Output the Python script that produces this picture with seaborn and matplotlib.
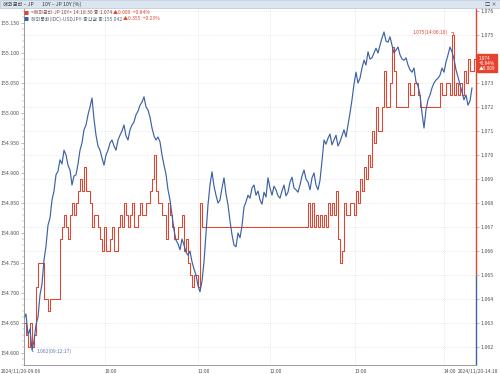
import numpy as np
import pandas as pd
import matplotlib
matplotlib.use("Agg")
import matplotlib.pyplot as plt
import matplotlib.transforms as mtransforms
from matplotlib.patches import Rectangle
import seaborn as sns

# ====================== 데이터 ======================
# 해외통화(IDC)-USDJPY-중간값 (왼쪽 축), 틱 순서대로
usdjpy = [154.658, 154.665, 154.630, 154.640, 154.605, 154.620, 154.647, 154.660, 154.697, 154.715,
          154.755, 154.778, 154.813, 154.825, 154.855, 154.870, 154.897, 154.903, 154.922, 154.915,
          154.938, 154.930, 154.913, 154.905, 154.880, 154.895, 154.897, 154.915, 154.938, 154.950,
          154.972, 154.980, 154.997, 155.010, 155.025, 154.990, 154.963, 154.945, 154.938, 154.925,
          154.913, 154.930, 154.938, 154.950, 154.955, 154.945, 154.938, 154.955, 154.963, 154.970,
          154.980, 154.962, 154.955, 154.972, 154.980, 154.985, 154.997, 155.003, 155.013, 155.018,
          155.027, 155.010, 155.005, 154.993, 154.975, 154.962, 154.955, 154.960, 154.952, 154.930,
          154.913, 154.898, 154.872, 154.855, 154.830, 154.805, 154.788, 154.782, 154.772, 154.790,
          154.780, 154.768, 154.763, 154.770, 154.752, 154.740, 154.730, 154.712, 154.702, 154.720,
          154.752, 154.800, 154.847, 154.880, 154.902, 154.878, 154.863, 154.850, 154.855, 154.875,
          154.892, 154.865, 154.847, 154.820, 154.797, 154.780, 154.777, 154.800, 154.792, 154.812,
          154.843, 154.852, 154.863, 154.858, 154.875, 154.880, 154.863, 154.870, 154.855, 154.848,
          154.868, 154.860, 154.892, 154.875, 154.863, 154.878, 154.872, 154.862, 154.858, 154.870,
          154.880, 154.862, 154.868, 154.885, 154.893, 154.875, 154.872, 154.868, 154.880, 154.895,
          154.905, 154.890, 154.885, 154.872, 154.892, 154.900, 154.880, 154.872, 154.888, 154.920,
          154.955, 154.948, 154.958, 154.965, 154.947, 154.955, 154.963, 154.945, 154.952, 154.962,
          154.972, 154.960, 154.980, 155.000, 155.022, 155.048, 155.068, 155.050, 155.058, 155.075,
          155.088, 155.080, 155.102, 155.090, 155.092, 155.100, 155.108, 155.100, 155.113, 155.125,
          155.135, 155.120, 155.118, 155.127, 155.113, 155.100, 155.105, 155.110, 155.097, 155.090,
          155.088, 155.092, 155.080, 155.072, 155.068, 155.075, 155.052, 155.045, 155.030, 155.000,
          154.975, 155.005, 155.022, 155.030, 155.042, 155.050, 155.055, 155.058, 155.063, 155.075,
          155.068, 155.085, 155.097, 155.110, 155.102, 155.090, 155.072, 155.060, 155.047, 155.035,
          155.022, 155.030, 155.013, 155.020, 155.042]

# 해외금리-JP 10Y (오른쪽 축), 틱 순서대로
jp10y = [1.0630, 1.0625, 1.0620, 1.0630, 1.0620, 1.0625, 1.0645, 1.0655, 1.0655, 1.0655,
         1.0640, 1.0640, 1.0635, 1.0640, 1.0640, 1.0640, 1.0640, 1.0640, 1.0665, 1.0670,
         1.0675, 1.0670, 1.0665, 1.0675, 1.0680, 1.0675, 1.0680, 1.0685, 1.0690, 1.0685,
         1.0695, 1.0685, 1.0685, 1.0680, 1.0670, 1.0675, 1.0675, 1.0670, 1.0665, 1.0660,
         1.0670, 1.0660, 1.0660, 1.0665, 1.0670, 1.0660, 1.0660, 1.0670, 1.0675, 1.0670,
         1.0680, 1.0675, 1.0670, 1.0675, 1.0680, 1.0670, 1.0670, 1.0675, 1.0680, 1.0675,
         1.0675, 1.0680, 1.0680, 1.0685, 1.0690, 1.0700, 1.0685, 1.0680, 1.0680, 1.0675,
         1.0675, 1.0665, 1.0680, 1.0675, 1.0670, 1.0665, 1.0665, 1.0670, 1.0670, 1.0675,
         1.0660, 1.0665, 1.0655, 1.0650, 1.0645, 1.0650, 1.0650, 1.0645, 1.0680, 1.0670] + \
        [1.0670] * 52 + \
        [1.0680, 1.0670, 1.0680, 1.0670, 1.0675, 1.0670, 1.0675, 1.0670, 1.0675, 1.0670,
         1.0680, 1.0675, 1.0680, 1.0675, 1.0685, 1.0665, 1.0655, 1.0660, 1.0680, 1.0675,
         1.0675, 1.0680, 1.0680, 1.0675, 1.0685, 1.0680, 1.0690, 1.0685, 1.0695, 1.0690,
         1.0700, 1.0695, 1.0710, 1.0705, 1.0720, 1.0710, 1.0710, 1.0720, 1.0735, 1.0720,
         1.0720, 1.0730, 1.0745, 1.0735, 1.0720, 1.0720, 1.0720, 1.0720, 1.0720, 1.0720,
         1.0730, 1.0725, 1.0725, 1.0730, 1.0730, 1.0725, 1.0720, 1.0720, 1.0720, 1.0720,
         1.0720, 1.0720, 1.0720, 1.0720, 1.0720, 1.0720, 1.0730, 1.0725, 1.0725, 1.0730,
         1.0730, 1.0725, 1.0750, 1.0725, 1.0730, 1.0725, 1.0730, 1.0725, 1.0735, 1.0730,
         1.0740, 1.0735, 1.0735, 1.0740, 1.0740]

tick_pos = [0, 40.5, 87, 123, 165.5, 210, 226]
tick_lab = ["2024/11/20-09:06", "10:00", "11:00", "12:00", "13:00", "14:00", "2024/11/20-14:18"]
left_ticks = [154.60, 154.65, 154.70, 154.75, 154.80, 154.85, 154.90, 154.95, 155.00, 155.05, 155.10, 155.15]
right_ticks = [1.062, 1.063, 1.064, 1.065, 1.066, 1.067, 1.068, 1.069, 1.070, 1.071, 1.072, 1.073, 1.074, 1.075, 1.076]
hi_time = "14:06:10"
lo_time = "09:12:17"
jp_chg, jp_pct = "▲0.009", "+0.84%"
fx_chg, fx_pct = "▲0.355", "+0.23%"
last_time = "14:18:30"

RED = "#e5432f"
BLUE = "#3c62a5"
GRAY = "#505050"

sns.set_style("white")
plt.rcParams["font.family"] = ["Noto Sans CJK KR", "DejaVu Sans"]

df_jp = pd.DataFrame({"idx": np.arange(len(jp10y)), "val": jp10y})
df_fx = pd.DataFrame({"idx": np.arange(len(usdjpy)), "val": usdjpy})

fig = plt.figure(figsize=(5, 3.74), dpi=100)
ax = fig.add_axes([24 / 500, 9 / 374, 452 / 500, 357 / 374])

# ===== 금리 (계단형, 오른쪽 눈금) =====
sns.lineplot(data=df_jp, x="idx", y="val", ax=ax, color=RED, lw=0.75,
             drawstyle="steps-post", estimator=None)
ax.set_xlim(0, len(jp10y) - 1)
ax.set_ylim(1.06125, 1.07613)
ax.set_xticks(tick_pos)
ax.set_xticklabels(tick_lab)
ax.set_xlabel("")
ax.set_ylabel("")
ax.grid(True, color="#d4d4d4", linestyle=(0, (1, 2)), lw=0.5)
for s in ["top", "right", "left"]:
    ax.spines[s].set_visible(False)
ax.spines["bottom"].set_color("#8a8a8a")
ax.spines["bottom"].set_linewidth(0.6)

# ===== 환율 (왼쪽 눈금) =====
ax2 = ax.twinx()
sns.lineplot(data=df_fx, x="idx", y="val", ax=ax2, color=BLUE, lw=0.85, estimator=None)
ax2.set_ylim(154.58, 155.175)
ax2.set_ylabel("")
for s in ["top", "right", "bottom"]:
    ax2.spines[s].set_visible(False)
ax2.spines["left"].set_color("#8a8a8a")
ax2.spines["left"].set_linewidth(0.6)

# twinx 이후 눈금 위치 다시 지정 (현재값 박스에 가려지는 눈금 글자는 비움)
ax.yaxis.tick_right()
ax.set_yticks(right_ticks)
ax.set_yticklabels(["" if abs(v - jp10y[-1]) < 1e-9 else f"{v:.3f}" for v in right_ticks])
ax2.yaxis.tick_left()
ax2.set_yticks(left_ticks)
ax2.set_yticklabels([f"{v:.3f}" for v in left_ticks])
ax2.set_yticks(np.arange(154.58, 155.175, 0.01), minor=True)

ax.tick_params(axis="y", labelsize=3.8, length=2, width=0.4, pad=1.5, colors="#8a8a8a",
               labelcolor=GRAY, left=False, right=True, labelleft=False, labelright=True)
ax.tick_params(axis="x", labelsize=3.6, length=2, width=0.4, pad=1, colors="#8a8a8a", labelcolor=GRAY)
ax2.tick_params(axis="y", which="major", labelsize=3.8, length=2, width=0.4, pad=1,
                colors="#8a8a8a", labelcolor=GRAY, left=True, right=False,
                labelleft=True, labelright=False)
ax2.tick_params(axis="y", which="minor", length=1.2, width=0.3, colors="#8a8a8a",
                left=True, right=False)

xl = ax.get_xticklabels()
for t in xl[:-1]:
    t.set_ha("left")
xl[0].set_transform(xl[0].get_transform() +
                    mtransforms.ScaledTranslation(-0.23, 0, fig.dpi_scale_trans))
xl[-1].set_ha("right")
xl[-1].set_transform(xl[-1].get_transform() +
                     mtransforms.ScaledTranslation(0.225, 0, fig.dpi_scale_trans))

# 오른쪽 축 선 (빨강/파랑)
ax.vlines(1, 1.065, 1.07613, transform=ax.get_yaxis_transform(), color=RED, lw=1.0, clip_on=False)
ax.vlines(1, 1.06125, 1.065, transform=ax.get_yaxis_transform(), color=BLUE, lw=1.0, clip_on=False)

# 최고/최저 표시
hi_i = int(np.argmax(jp10y))
lo_i = int(np.argmin(jp10y))
ax.annotate(f"{jp10y[hi_i]:.3f}({hi_time})", xy=(hi_i + 0.5, jp10y[hi_i]), xytext=(-4, 2),
            textcoords="offset points", ha="right", va="center", color=RED, fontsize=3.6,
            arrowprops=dict(arrowstyle="-", color=RED, lw=0.5, shrinkA=0, shrinkB=0,
                            connectionstyle="angle,angleA=0,angleB=90,rad=0"))
ax.annotate(f"{jp10y[lo_i]:.3f}({lo_time})", xy=(lo_i + 2, jp10y[lo_i]), xytext=(3, -3),
            textcoords="offset points", ha="left", va="center", color="#5b78ad", fontsize=3.6,
            arrowprops=dict(arrowstyle="-", color="#5b78ad", lw=0.5, shrinkA=0, shrinkB=0,
                            connectionstyle="angle,angleA=0,angleB=90,rad=0"))

# 현재값 박스
ax.annotate(f"{jp10y[-1]:.3f}\n{jp_pct}\n{jp_chg}", xy=(1, jp10y[-1]),
            xycoords=ax.get_yaxis_transform(), xytext=(2, -3), textcoords="offset points",
            ha="left", va="center", color="white", fontsize=3.4, linespacing=1.0,
            bbox=dict(boxstyle="square,pad=0.35", fc=RED, ec=RED), annotation_clip=False)

# ===== 상단 제목줄 =====
fig.patches.append(Rectangle((0, 1 - 8 / 374), 1, 8 / 374, transform=fig.transFigure,
                             fc="#dbe5f0", ec="#b8c6d6", lw=0.5, zorder=0))
fig.text(3 / 500, 1 - 4 / 374, "해외금리 – JP", fontsize=3.8, color="#333333", va="center")
fig.text(42 / 500, 1 - 4 / 374, "10Y – JP 10Y (%)", fontsize=3.8, color="#333333", va="center")
fig.text(497 / 500, 1 - 4 / 374, "□ ×", fontsize=3.8, color="#333333", va="center", ha="right")

# 범례 텍스트
renderer = fig.canvas.get_renderer()


def put_parts(x, y, parts):
    for s, c in parts:
        t = fig.text(x, y, s, color=c, fontsize=3.6, va="center")
        bb = t.get_window_extent(renderer=renderer)
        x = fig.transFigure.inverted().transform((bb.x1, bb.y0))[0] + 1.5 / 500


put_parts(24 / 500, 1 - 12.5 / 374,
          [("■", RED), (f"<해외금리-JP 10Y> {last_time} 종:{jp10y[-1]:.3f}", "#8a4a46"),
           (f"{jp_chg}  {jp_pct}", RED)])
put_parts(24 / 500, 1 - 19 / 374,
          [("■", BLUE), (f"해외통화(IDC)-USDJPY-중간값 종:{usdjpy[-1]:.3f}", "#5a6478"),
           (f"{fx_chg}  {fx_pct}", RED)])

fig.savefig("out.png", dpi=100)
